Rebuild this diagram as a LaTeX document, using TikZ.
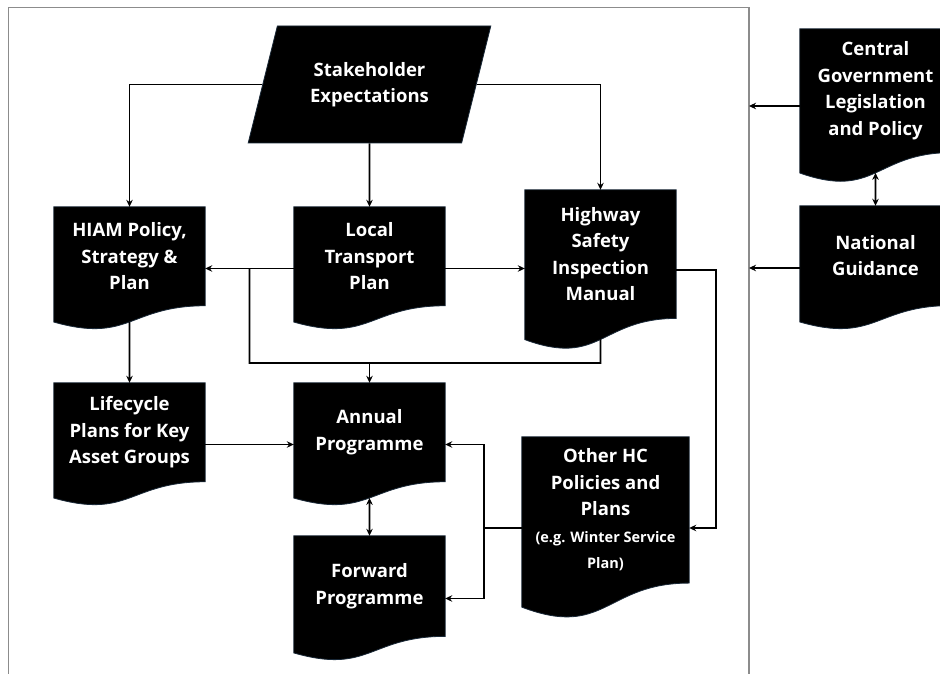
\documentclass[tikz,border=0pt]{standalone}
\usepackage{fontspec}
\setmainfont{Open Sans}
\usetikzlibrary{calc,shapes.geometric,arrows.meta}
\definecolor{edgec}{RGB}{25,40,55}
\definecolor{framec}{RGB}{140,140,140}
\tikzset{
  docfill/.style={fill=black, draw=edgec, line width=0.8pt},
  lbl/.style={text=white, font=\fontsize{18.5}{26.5}\selectfont\bfseries, align=center, inner sep=0pt},
  conn/.style={line width=1.6pt, black},
  arr/.style={conn, -{Stealth[length=7pt,width=6.5pt]}},
  dbl/.style={conn, {Stealth[length=7pt,width=6.5pt]}-{Stealth[length=7pt,width=6.5pt]}},
}
\newcommand\smalltxt{\fontsize{14.5}{21}\selectfont}
\newcommand\docbox[6]{%
  \node[minimum width=#4pt, minimum height=#5pt, inner sep=0pt] (#1) at (#2,#3) {};
  \path[docfill] (#1.north west) -- (#1.north east) -- ($(#1.north east)!0.802!(#1.south east)$)
     .. controls ($(#1.north)!0.802!(#1.south)$) and ($(#1.north)!1.108!(#1.south)$) ..
     ($(#1.north west)!0.934!(#1.south west)$) -- cycle;
  \node[lbl] (#1t) at ($(#1.north)!0.4!(#1.south)$) {#6};
  \coordinate (#1b) at ($(#1.north)!0.933!(#1.south)$);
}
\begin{document}
\begin{tikzpicture}[x=1pt,y=-1pt]
\path[use as bounding box] (0,0) rectangle (940,674);
\clip (0,0) rectangle (940,674);
\fill[white] (0,0) rectangle (940,674);
% frame
\draw[framec, line width=1.3pt] (8.5,690) -- (8.5,7.5) -- (749,7.5) -- (749,690);
\coordinate (frameR) at (749,7.5);
% stakeholder parallelogram
\node[trapezium, trapezium left angle=67.3, trapezium right angle=112.7,
      trapezium stretches=true, minimum width=243pt, minimum height=117pt,
      fill=black, draw=edgec, line width=0.8pt, inner sep=0pt, lbl] (SE) at (369.5,84.5)
      {Stakeholder\\Expectations};
% document boxes
\docbox{HIAM}{129.5}{268.5}{151}{123}{HIAM Policy,\\Strategy \&\\Plan}
\docbox{LTP}{369.5}{268.5}{151}{123}{Local\\Transport\\Plan}
\docbox{HSIM}{600.5}{270}{151}{160}{Highway\\Safety\\Inspection\\Manual}
\docbox{CG}{875.5}{106}{151}{154}{Central\\Government\\Legislation\\and Policy}
\docbox{NG}{875.5}{268}{151}{124}{National\\Guidance}
\docbox{LC}{129.5}{444.5}{151}{123}{Lifecycle\\Plans for Key\\Asset Groups}
\docbox{AP}{369.5}{444.5}{151}{123}{Annual\\Programme}
\docbox{FP}{369.5}{598.5}{151}{125}{Forward\\Programme}
\docbox{OHC}{605.5}{528}{167}{182}{Other HC\\Policies and\\Plans\\\smalltxt(e.g. Winter Service\\\smalltxt Plan)}
% connectors
\draw[arr] (SE.west) -| (HIAM.north);
\draw[arr] (SE.east) -| (HSIM.north);
\draw[arr] (SE.south) -- (LTP.north);
\draw[arr] (LTP.west) -- (HIAM.east);
\draw[arr] (LTP.east) -- (LTP.east -| HSIM.west);
\coordinate (j1) at ($(HIAM.east)!0.5!(LTP.west)$);
\coordinate (bus) at (0,363);
\draw[conn] (j1) |- (bus -| HSIM) -- (HSIMb);
\draw[arr] (bus -| AP) -- (AP.north);
\draw[arr] (HSIM.east) -- ++(40,0) |- (OHC.east);
\draw[arr] (HIAMb) -- (LC.north);
\draw[arr] (LC.east) -- (AP.west);
\coordinate (j2) at ($(OHC.west)+(-38,0)$);
\draw[conn] (OHC.west) -- (j2);
\draw[arr] (j2) |- (AP.east);
\draw[arr] (j2) |- (FP.east);
\draw[dbl] (APb) -- (FP.north);
\draw[arr] (CG.west) -- (CG.west -| frameR);
\draw[arr] (NG.west) -- (NG.west -| frameR);
\draw[dbl] (CGb) -- (NG.north);
\end{tikzpicture}
\end{document}
